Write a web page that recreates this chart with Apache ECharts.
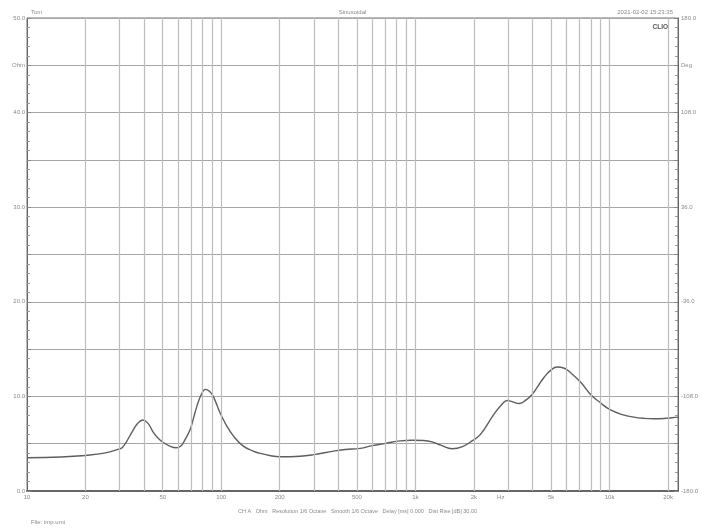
<!DOCTYPE html>
<html>
<head>
<meta charset="utf-8">
<script src="https://cdn.jsdelivr.net/npm/echarts@6/dist/echarts.min.js"></script>
<style>
  html, body { margin: 0; padding: 0; background: #fff; }
  #chart { width: 705px; height: 529px; }
</style>
</head>
<body>
<div id="chart"></div>
<script>
// impedance curve (Hz / Ohm)
const freqs = [10, 15, 20, 25, 30, 31, 32.5, 34.6, 37, 39.5, 42, 44.8, 47.5, 50.5, 55, 58.6, 62, 65, 69.2, 72,
  75, 79, 83, 87, 91, 98.6, 106, 115.7, 130, 145, 159, 180, 200, 255, 300, 379, 435, 520, 600, 700, 837, 961,
  1100, 1219, 1350, 1546, 1750, 1958, 2163, 2535, 2800, 2970, 3150, 3413, 3700, 3990, 4580, 5000, 5376, 5800,
  6300, 7100, 7980, 9000, 10000, 11500, 13340, 15000, 16900, 19000, 21000, 22500];
const ohms = [3.51, 3.6, 3.76, 4.0, 4.45, 4.6, 5.2, 6.16, 7.1, 7.5, 7.15, 6.16, 5.55, 5.1, 4.7, 4.57, 4.75, 5.4,
  6.5, 7.7, 8.97, 10.2, 10.74, 10.55, 10.0, 8.27, 7.0, 5.8, 4.74, 4.25, 3.97, 3.72, 3.62, 3.68, 3.85, 4.21, 4.39,
  4.5, 4.8, 5.03, 5.3, 5.36, 5.34, 5.2, 4.85, 4.47, 4.7, 5.3, 5.98, 8.1, 9.2, 9.57, 9.45, 9.25, 9.6, 10.2, 11.97,
  12.8, 13.1, 13.0, 12.5, 11.5, 10.2, 9.3, 8.62, 8.1, 7.81, 7.68, 7.63, 7.66, 7.74, 7.81];

// vertical grid (every 1-2-3..9 per decade) and the labelled ones
const gridFreqs = [20, 30, 40, 50, 60, 70, 80, 90, 100, 200, 300, 400, 500, 600, 700, 800, 900,
  1000, 2000, 3000, 4000, 5000, 6000, 7000, 8000, 9000, 10000, 20000];
const xTickValues = [10, 20, 50, 100, 200, 500, 1000, 2000, 5000, 10000, 20000];
const xTickLabels = ['10', '20', '50', '100', '200', '500', '1k', '2k', '5k', '10k', '20k'];

const txt = '#8a8a8a';
const font = 'Liberation Sans, Arial, sans-serif';

const chart = echarts.init(document.getElementById('chart'), null, { renderer: 'canvas' });

const mlData = [];
gridFreqs.forEach(f => {
  const i = xTickValues.indexOf(f);
  mlData.push({
    xAxis: f,
    label: i >= 0 ? { show: true, formatter: xTickLabels[i] } : { show: false }
  });
});
// the 10 Hz label sits on the left frame; "Hz" has no line
mlData.push({ xAxis: 10, lineStyle: { color: 'rgba(0,0,0,0)' }, label: { show: true, formatter: '10', color: txt } });
mlData.push({ xAxis: 2750, lineStyle: { color: 'rgba(0,0,0,0)' }, label: { show: true, formatter: 'Hz', color: txt } });

const option = {
  animation: false,
  backgroundColor: '#fff',
  textStyle: { fontFamily: font },
  title: [
    { text: 'Tom', left: 26, top: 4, textStyle: { fontSize: 6, color: txt, fontWeight: 'normal' } },
    { text: 'Sinusoidal', left: 'center', top: 4, textStyle: { fontSize: 6, color: txt, fontWeight: 'normal' } },
    { text: '2021-02-02 15:23:35', right: 27, top: 4, textStyle: { fontSize: 6, color: txt, fontWeight: 'normal' } },
    { text: 'CLIO', right: 32, top: 19, textStyle: { fontSize: 6.5, color: '#555', fontWeight: 'bold' } },
    { text: 'CH A   Ohm   Resolution 1/6 Octave   Smooth 1/6 Octave   Delay [ms] 0.000   Dist Rise [dB] 30.00',
      left: 233, top: 503, textStyle: { fontSize: 5.5, color: txt, fontWeight: 'normal' } },
    { text: 'File: imp.umi', left: 26, top: 514, textStyle: { fontSize: 6, color: txt, fontWeight: 'normal' } }
  ],
  grid: { left: 27, right: 27, top: 18, bottom: 38, show: true, borderColor: '#777', borderWidth: 1 },
  xAxis: {
    type: 'log', logBase: 10, min: 10, max: 22500,
    axisLine: { show: true, lineStyle: { color: '#666', width: 2 } },
    axisTick: { show: false },
    axisLabel: { show: false },
    splitLine: { show: false }
  },
  yAxis: [
    {
      type: 'value', min: 0, max: 50, interval: 5, position: 'left',
      axisLine: { show: true, lineStyle: { color: '#666', width: 1 } },
      axisTick: { show: true, inside: true, length: 4, lineStyle: { color: '#888' } },
      minorTick: { show: true, splitNumber: 5, length: 3, lineStyle: { color: '#999' } },
      axisLabel: {
        fontSize: 6, color: txt, margin: 2,
        formatter: v => (v % 10 === 0 ? v.toFixed(1) : (v === 45 ? 'Ohm' : ''))
      },
      splitLine: { show: true, lineStyle: { color: '#a6a6a6', width: 1 } }
    },
    {
      type: 'value', min: -180, max: 180, interval: 36, position: 'right',
      axisLine: { show: true, lineStyle: { color: '#666', width: 1 } },
      axisTick: { show: true, inside: true, length: 4, lineStyle: { color: '#888' } },
      minorTick: { show: true, splitNumber: 5, length: 3, lineStyle: { color: '#999' } },
      axisLabel: {
        fontSize: 6, color: txt, margin: 3,
        formatter: v => (Math.abs(v) % 72 === 36 || Math.abs(v) === 180 ? v.toFixed(1) : (v === 144 ? 'Deg' : ''))
      },
      splitLine: { show: false }
    }
  ],
  series: [
    {
      name: 'grid', type: 'line', data: [], z: 1, silent: true,
      markLine: {
        silent: true, symbol: ['none', 'none'], animation: false,
        lineStyle: { type: 'solid', color: '#bdbdbd', width: 1.2 },
        label: { position: 'start', distance: 3, fontSize: 6, color: txt },
        emphasis: { disabled: true },
        data: mlData
      }
    },
    {
      name: 'Ohm', type: 'line', z: 3,
      data: freqs.map((f, i) => [f, ohms[i]]),
      smooth: 0.45, showSymbol: false,
      lineStyle: { color: '#5e5e5e', width: 1.4 }
    }
  ]
};

chart.setOption(option);
</script>
</body>
</html>
